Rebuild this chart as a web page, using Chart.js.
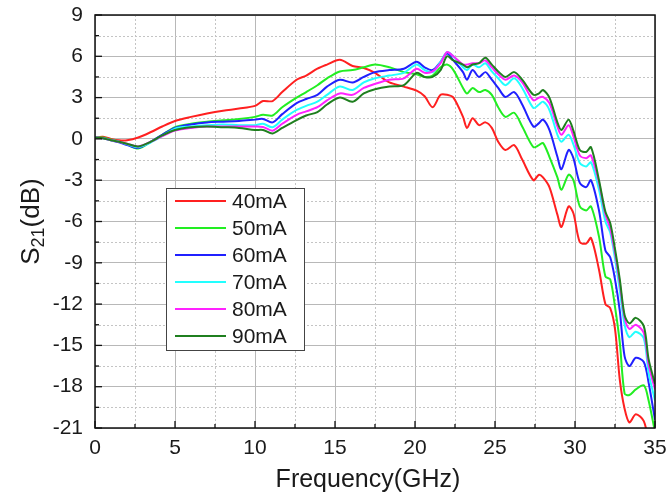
<!DOCTYPE html>
<html>
<head>
<meta charset="utf-8">
<script src="https://cdn.jsdelivr.net/npm/chart.js@4/dist/chart.umd.min.js"></script>
<style>
html,body{margin:0;padding:0;background:#fff;}
#wrap{width:668px;height:494px;}
</style>
</head>
<body>
<div id="wrap"><canvas id="c" width="668" height="494"></canvas></div>
<script>
const freqGHz = [0,0.5,1,1.5,2,2.7,3.5,4.2,5,6,7,8,9,10,10.5,11.1,11.7,12.6,13.2,13.9,14.5,15.3,16.1,16.8,17.5,18.4,19.3,20.1,20.6,21.1,21.6,22.0,22.4,23.0,23.25,23.6,24.0,24.4,24.8,25.2,25.65,26.2,26.7,27.4,27.75,28.0,28.4,28.9,29.15,29.6,29.9,30.3,30.7,31.0,31.5,31.9,32.2,32.5,32.8,33.1,33.4,33.8,34.3,34.6,35];

const s40 = [0.1,0.15,0.0,-0.1,-0.1,0.1,0.5,0.9,1.3,1.6,1.85,2.05,2.2,2.4,2.75,2.75,3.4,4.3,4.6,5.1,5.4,5.75,5.3,5.15,4.8,4.1,3.8,3.5,3.1,2.3,3.2,3.2,3.0,1.6,0.8,1.5,1.0,1.2,0.8,-0.2,-0.8,-0.45,-1.5,-3.0,-2.6,-2.8,-3.5,-5.5,-6.4,-4.9,-5.4,-7.5,-7.6,-7.2,-9.5,-12.0,-12.3,-13.8,-17.5,-19.6,-20.6,-20.0,-20.5,-22.0,-24.0];
const s50 = [0.1,0.1,-0.05,-0.2,-0.4,-0.7,-0.2,0.3,0.85,1.1,1.25,1.35,1.45,1.6,1.75,1.7,2.3,3.0,3.4,3.9,4.4,4.9,5.0,5.2,5.4,5.2,4.85,4.7,4.5,4.6,5.2,5.4,5.0,3.7,3.3,3.7,3.4,3.55,3.2,2.3,1.6,1.9,0.9,-0.6,-0.45,-0.3,-1.3,-2.8,-3.7,-2.6,-3.0,-4.9,-5.2,-4.9,-7.1,-10.0,-10.2,-12.2,-14.8,-18.5,-18.6,-18.2,-17.9,-19.0,-21.3];
const s60 = [0.1,0.05,-0.1,-0.25,-0.45,-0.65,-0.2,0.3,0.8,1.05,1.2,1.25,1.3,1.4,1.45,1.2,1.8,2.6,2.9,3.2,3.8,4.3,4.1,4.5,4.85,5.0,5.1,5.6,5.2,5.0,5.6,6.2,5.7,4.85,4.3,5.0,4.5,4.85,4.3,3.7,3.05,3.4,2.5,0.9,1.15,1.4,0.65,-1.3,-2.2,-0.8,-1.4,-3.2,-3.5,-3.0,-5.2,-8.1,-8.6,-10.2,-12.5,-15.8,-16.5,-15.9,-16.2,-17.7,-20.4];
const s70 = [0.1,0.05,-0.1,-0.2,-0.4,-0.6,-0.25,0.2,0.75,0.9,1.0,1.05,1.0,1.0,1.1,0.85,1.4,2.1,2.4,2.7,3.2,3.8,3.55,4.1,4.4,4.6,4.8,5.4,5.0,4.85,5.6,6.3,6.0,5.2,5.0,5.4,5.2,5.5,4.9,4.4,3.9,4.4,3.7,2.25,2.5,2.7,2.1,0.3,-0.2,0.3,-0.4,-1.75,-2.0,-1.7,-3.7,-6.0,-6.8,-8.7,-11.0,-13.5,-14.4,-14.0,-14.5,-17.0,-19.0];
const s80 = [0.1,0.05,-0.1,-0.2,-0.35,-0.55,-0.2,0.2,0.6,0.8,0.9,0.9,0.9,0.9,0.87,0.6,1.1,1.75,2.0,2.3,2.8,3.3,3.2,3.7,4.0,4.3,4.4,5.1,4.8,4.9,5.5,6.3,6.0,5.4,5.4,5.5,5.5,5.7,5.2,4.7,4.3,4.6,4.1,2.8,3.0,3.05,2.6,0.9,0.3,1.0,0.2,-1.2,-1.4,-1.2,-3.2,-5.5,-6.5,-8.3,-10.5,-13.0,-13.8,-13.5,-14.1,-16.4,-18.2];
const s90 = [0.1,0.05,-0.1,-0.2,-0.35,-0.55,-0.2,0.25,0.65,0.85,0.9,0.85,0.8,0.65,0.65,0.4,0.8,1.37,1.7,1.95,2.5,3.0,2.7,3.3,3.6,3.8,3.9,4.8,4.5,4.5,5.0,6.0,5.7,5.4,5.2,5.4,5.5,5.9,5.4,4.9,4.5,4.85,4.3,3.2,3.3,3.55,3.0,1.2,0.65,1.4,0.6,-0.8,-0.95,-0.6,-3.0,-5.3,-6.1,-8.0,-10.2,-12.8,-13.4,-13.0,-13.6,-16.0,-17.8];

const seriesLabels = ['40mA','50mA','60mA','70mA','80mA','90mA'];
const seriesValues = [s40, s50, s60, s70, s80, s90];
const seriesColors = ['#ff2020','#22ee22','#2020ff','#22ffff','#ff22ff','#1f7f1f'];

const xMin = 0, xMax = 35, xStep = 5;
const yMin = -21, yMax = 9, yStep = 3;
const xTitle = 'Frequency(GHz)';

const FONT = "'Liberation Sans', Arial, sans-serif";

const datasets = seriesValues.map((vals, i) => ({
  label: seriesLabels[i],
  data: freqGHz.map((f, k) => ({x: f, y: vals[k]})),
  borderColor: seriesColors[i],
  backgroundColor: seriesColors[i],
  borderWidth: 2,
  pointRadius: 0,
  tension: 0.3,
  fill: false,
  order: seriesValues.length - 1 - i
}));

function noPad(s) { s.paddingTop = 0; s.paddingBottom = 0; s.paddingLeft = 0; s.paddingRight = 0; }

const decor = {
  id: 'decor',
  beforeDatasetsDraw(chart) {
    const {ctx, chartArea: a, scales: {x, y}} = chart;
    ctx.save();
    ctx.strokeStyle = '#c4c4c4';
    ctx.lineWidth = 1;
    ctx.setLineDash([2, 2]);
    for (let v = xMin + xStep / 2; v < xMax; v += xStep) {
      const p = Math.round(x.getPixelForValue(v)) + 0.5;
      ctx.beginPath(); ctx.moveTo(p, a.top); ctx.lineTo(p, a.bottom); ctx.stroke();
    }
    for (let v = yMin + yStep / 2; v < yMax; v += yStep) {
      const p = Math.round(y.getPixelForValue(v)) + 0.5;
      ctx.beginPath(); ctx.moveTo(a.left, p); ctx.lineTo(a.right, p); ctx.stroke();
    }
    ctx.restore();
  },
  afterDatasetsDraw(chart) {
    const {ctx, chartArea: a, scales: {x, y}} = chart;
    ctx.save();
    ctx.strokeStyle = '#111';
    ctx.lineWidth = 1.5;
    ctx.strokeRect(a.left, a.top, a.right - a.left, a.bottom - a.top);
    ctx.lineWidth = 1.3;
    for (let v = xMin; v <= xMax + 1e-9; v += xStep / 2) {
      const major = Math.abs((v - xMin) / xStep - Math.round((v - xMin) / xStep)) < 1e-6;
      const p = x.getPixelForValue(v);
      ctx.beginPath(); ctx.moveTo(p, a.bottom); ctx.lineTo(p, a.bottom - (major ? 7 : 4)); ctx.stroke();
    }
    for (let v = yMin; v <= yMax + 1e-9; v += yStep / 2) {
      const major = Math.abs((v - yMin) / yStep - Math.round((v - yMin) / yStep)) < 1e-6;
      const p = y.getPixelForValue(v);
      ctx.beginPath(); ctx.moveTo(a.left, p); ctx.lineTo(a.left + (major ? 7 : 4), p); ctx.stroke();
    }

    // legend
    const lx = 166, ly = 188, lw = 138, rowH = 27;
    const lh = rowH * seriesLabels.length;
    ctx.fillStyle = '#fff';
    ctx.fillRect(lx, ly, lw, lh);
    ctx.strokeStyle = '#444';
    ctx.lineWidth = 1;
    ctx.strokeRect(lx + 0.5, ly + 0.5, lw, lh);
    ctx.font = '21px ' + FONT;
    ctx.textBaseline = 'middle';
    ctx.textAlign = 'left';
    chart.data.datasets.forEach((ds, i) => {
      const cy = ly + 13 + i * rowH;
      ctx.strokeStyle = ds.borderColor;
      ctx.lineWidth = 2;
      ctx.beginPath(); ctx.moveTo(lx + 9, cy); ctx.lineTo(lx + 60, cy); ctx.stroke();
      ctx.fillStyle = '#1a1a1a';
      ctx.fillText(ds.label, lx + 66, cy + 1);
    });

    ctx.fillStyle = '#1a1a1a';
    ctx.font = '25px ' + FONT;
    ctx.textAlign = 'center';
    ctx.textBaseline = 'alphabetic';
    ctx.fillText(xTitle, (a.left + a.right) / 2 - 7, 487);

    const big = '26px ' + FONT, small = '18px ' + FONT;
    ctx.font = big; const wS = ctx.measureText('S').width; const wT = ctx.measureText('(dB)').width;
    ctx.font = small; const w21 = ctx.measureText('21').width;
    const total = wS + w21 + wT;
    ctx.translate(39, (a.top + a.bottom) / 2);
    ctx.rotate(-Math.PI / 2);
    ctx.textAlign = 'left';
    let cx = -total / 2;
    ctx.font = big; ctx.fillText('S', cx, 0); cx += wS;
    ctx.font = small; ctx.fillText('21', cx, 5); cx += w21;
    ctx.font = big; ctx.fillText('(dB)', cx, 0);
    ctx.restore();
  }
};

new Chart(document.getElementById('c'), {
  type: 'line',
  data: { datasets },
  options: {
    responsive: false,
    animation: false,
    events: [],
    layout: { autoPadding: false, padding: { top: 15, right: 13, left: 0, bottom: 0 } },
    plugins: { legend: { display: false }, tooltip: { enabled: false } },
    scales: {
      x: {
        type: 'linear', min: xMin, max: xMax,
        afterFit(s) { s.height = 66; noPad(s); },
        grid: { color: '#b8b8b8', lineWidth: 1, drawTicks: false },
        border: { display: false },
        ticks: { stepSize: xStep, padding: 8, color: '#1a1a1a', font: { family: FONT, size: 21 }, maxRotation: 0 }
      },
      y: {
        type: 'linear', min: yMin, max: yMax,
        afterFit(s) { s.width = 95; noPad(s); },
        grid: { color: '#b8b8b8', lineWidth: 1, drawTicks: false },
        border: { display: false },
        ticks: { stepSize: yStep, padding: 12, color: '#1a1a1a', font: { family: FONT, size: 21 } }
      }
    }
  },
  plugins: [decor]
});
</script>
</body>
</html>
